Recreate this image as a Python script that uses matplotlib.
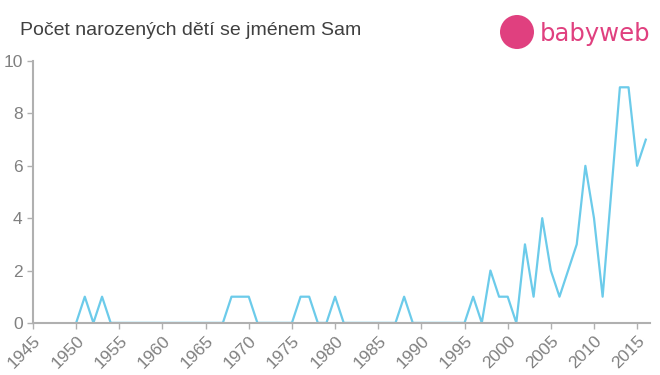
import numpy as np
import matplotlib.pyplot as plt
from matplotlib.patches import Ellipse

plt.rcParams['font.family'] = ['Liberation Sans', 'DejaVu Sans']

years = list(range(1950, 2017))
counts = [0, 1, 0, 1, 0, 0, 0, 0, 0, 0,   # 1950-1959
          0, 0, 0, 0, 0, 0, 0, 0, 1, 1,   # 1960-1969
          1, 0, 0, 0, 0, 0, 1, 1, 0, 0,   # 1970-1979
          1, 0, 0, 0, 0, 0, 0, 0, 1, 0,   # 1980-1989
          0, 0, 0, 0, 0, 0, 1, 0, 2, 1,   # 1990-1999
          1, 0, 3, 1, 4, 2, 1, 2, 3, 6,   # 2000-2009
          4, 1, 5, 9, 9, 6, 7]            # 2010-2016
xticks = list(range(1945, 2016, 5))
yticks = [0, 2, 4, 6, 8, 10]

fig = plt.figure(figsize=(6.6, 3.75), dpi=100)
ax = fig.add_axes([0.05, 0.139, 0.935, 0.698])
ax.plot(years, counts, color='#6ccbea', lw=1.6)

ax.set_xlim(1945, 2016.5)
ax.set_ylim(0, 10)
ax.set_xticks(xticks)
ax.set_yticks(yticks)
ax.set_xticklabels([str(x) for x in xticks], rotation=45, ha='right',
                   rotation_mode='anchor', fontsize=12.5)
ax.set_yticklabels([str(y) for y in yticks], fontsize=12.5)
ax.tick_params(axis='both', colors='#b0b0b0', length=4, width=1)
for lbl in ax.get_xticklabels() + ax.get_yticklabels():
    lbl.set_color('#808080')
for s in ['top', 'right']:
    ax.spines[s].set_visible(False)
for s in ['left', 'bottom']:
    ax.spines[s].set_color('#b0b0b0')
    ax.spines[s].set_linewidth(1.5)

fig.text(0.03, 0.918, 'Počet narozených dětí se jménem Sam', fontsize=14,
         color='#404040', va='center')

# logo
fig.patches.append(Ellipse((517 / 660, 1 - 32 / 375), 34 / 660, 34 / 375,
                           transform=fig.transFigure, color='#e0407f', ec='none'))
fig.text(540 / 660, 1 - 34 / 375, 'babyweb', fontsize=17.5, color='#e0407f',
         va='center', family='DejaVu Sans')

plt.savefig('out.png', dpi=100)
